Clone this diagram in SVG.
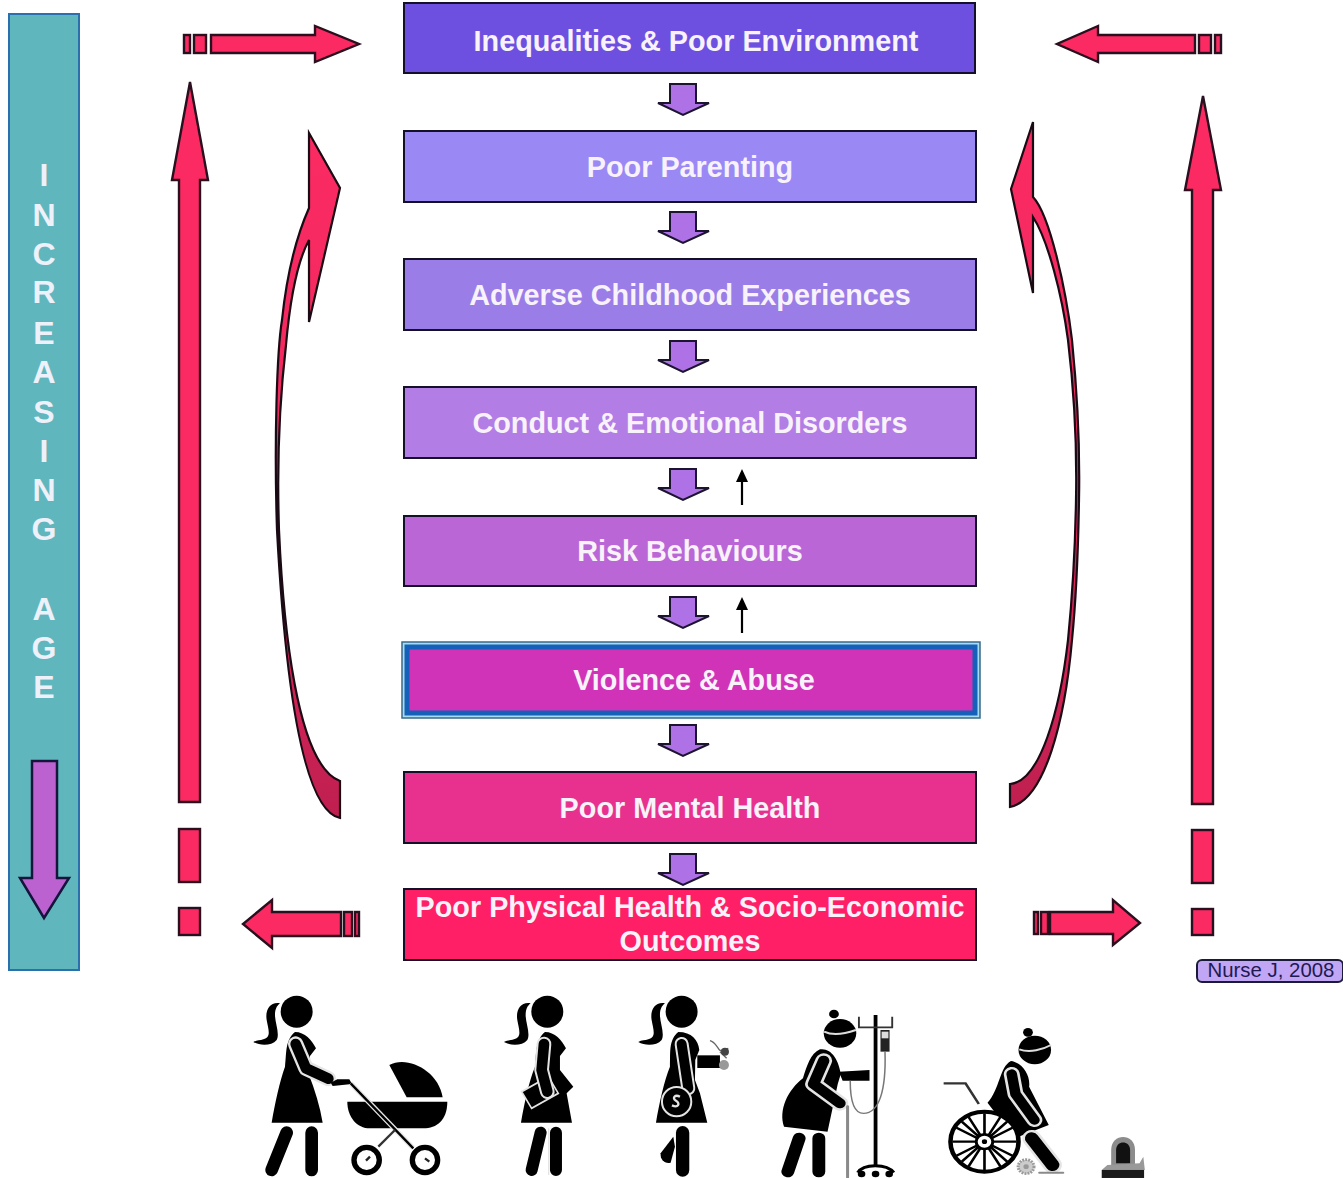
<svg xmlns="http://www.w3.org/2000/svg" width="1343" height="1178" viewBox="0 0 1343 1178">
<style>
.box{stroke:#14102a;stroke-width:2}
.t{font-family:"Liberation Sans",Arial,sans-serif;font-weight:700;font-size:28.8px;fill:#f8f2fb;text-anchor:middle}
.side{font-family:"Liberation Sans",Arial,sans-serif;font-weight:700;font-size:32px;fill:#eef0fa;text-anchor:middle}
.red{fill:#fb2a62;stroke:#2a0f1e;stroke-width:2.4;stroke-linejoin:miter}
.pur{fill:#ae72e6;stroke:#1c1430;stroke-width:2}
.k{fill:#000}
.lw{fill:none;stroke:#e4e4e4;stroke-linecap:round;stroke-linejoin:round}
.lk{fill:none;stroke:#000;stroke-linecap:round;stroke-linejoin:round}
.g{fill:none;stroke:#8a8a8a;stroke-linecap:round}
</style>
<defs>
<linearGradient id="cl" x1="0" y1="0" x2="0" y2="1"><stop offset="0" stop-color="#fb2a62"/><stop offset="0.45" stop-color="#f02a60"/><stop offset="1" stop-color="#bf1f50"/></linearGradient>
<path id="dn" class="pur" d="M670,84H696V103H709L683,115L658,103H670Z"/>
<path id="pony" class="k" d="M150,70C120,65 105,90 110,120C115,150 125,170 100,178C90,182 80,180 70,186C90,198 125,198 140,180C150,160 135,130 135,105C135,88 140,78 150,70Z"/>
</defs>
<rect width="1343" height="1178" fill="#fff"/>

<g id="age-bar">
<rect x="9" y="14" width="70" height="956" fill="#5fb7bd" stroke="#2a6fae" stroke-width="2"/>
<text class="side"><tspan x="44" y="186">I</tspan><tspan x="44" y="226">N</tspan><tspan x="44" y="265">C</tspan><tspan x="44" y="303">R</tspan><tspan x="44" y="344">E</tspan><tspan x="44" y="383">A</tspan><tspan x="44" y="423">S</tspan><tspan x="44" y="462">I</tspan><tspan x="44" y="501">N</tspan><tspan x="44" y="540">G</tspan></text>
<text class="side"><tspan x="44" y="620">A</tspan><tspan x="44" y="659">G</tspan><tspan x="44" y="698">E</tspan></text>
<path d="M32,761H57V878H69L44,918L20,878H32Z" fill="#bb62d0" stroke="#14143c" stroke-width="2.5"/>
</g>

<g id="n1"><rect class="box" x="404" y="3" width="571" height="70" fill="#6e50e0"/><text class="t" x="696" y="51">Inequalities &amp; Poor Environment</text></g>
<g id="n2"><rect class="box" x="404" y="131" width="572" height="71" fill="#9a88f5"/><text class="t" x="690" y="177">Poor Parenting</text></g>
<g id="n3"><rect class="box" x="404" y="259" width="572" height="71" fill="#9b7de8"/><text class="t" x="690" y="305">Adverse Childhood Experiences</text></g>
<g id="n4"><rect class="box" x="404" y="387" width="572" height="71" fill="#b27de4"/><text class="t" x="690" y="433">Conduct &amp; Emotional Disorders</text></g>
<g id="n5"><rect class="box" x="404" y="516" width="572" height="70" fill="#bb66d6"/><text class="t" x="690" y="561">Risk Behaviours</text></g>
<g id="n6"><rect x="402" y="642" width="578" height="76" fill="#a5dcf0" stroke="#3a6a8a" stroke-width="1.5"/><rect x="407" y="647" width="568" height="66" fill="#d033b8" stroke="#1560b8" stroke-width="5"/><text class="t" x="694" y="690">Violence &amp; Abuse</text></g>
<g id="n7"><rect class="box" x="404" y="772" width="572" height="71" fill="#e8318f"/><text class="t" x="690" y="818">Poor Mental Health</text></g>
<g id="n8"><rect class="box" x="404" y="889" width="572" height="71" fill="#ff1f66"/><text class="t" x="690" y="917">Poor Physical Health &amp; Socio-Economic</text><text class="t" x="690" y="951">Outcomes</text></g>
<g id="credit"><rect x="1197" y="960" width="146" height="22" rx="5" fill="#c0a6f5" stroke="#1a1a3a" stroke-width="2"/><text x="1271" y="977" font-family="Liberation Sans,Arial,sans-serif" font-size="20.4" fill="#1f1a50" text-anchor="middle">Nurse J, 2008</text></g>

<g id="connectors">
<use href="#dn"/><use href="#dn" y="128"/><use href="#dn" y="257"/><use href="#dn" y="385"/><use href="#dn" y="513"/><use href="#dn" y="641"/><use href="#dn" y="770"/>
<path d="M742,505V480" stroke="#000" stroke-width="2.2" fill="none"/><path d="M736,482L742,469L748,482Z"/>
<path d="M742,633V608" stroke="#000" stroke-width="2.2" fill="none"/><path d="M736,610L742,597L748,610Z"/>

<path class="red" d="M211,35H315V26L359,44L315,62V53H211Z"/>
<rect class="red" x="184" y="35" width="6" height="18"/><rect class="red" x="194" y="35" width="12" height="18"/>
<path class="red" d="M1195,35H1098V26L1057,44L1098,62V53H1195Z"/>
<rect class="red" x="1199" y="35" width="12" height="18"/><rect class="red" x="1215" y="35" width="6" height="18"/>
<path class="red" d="M341,912H272V900L243,924L272,948V936H341Z"/>
<rect class="red" x="344" y="912" width="8" height="24"/><rect class="red" x="355" y="912" width="4" height="24"/>
<path class="red" d="M1050,912H1113V900L1140,923L1113,945V934H1050Z"/>
<rect class="red" x="1034" y="912" width="4" height="22"/><rect class="red" x="1041" y="912" width="7" height="22"/>

<path class="red" d="M179,802V180H172L190,82L208,180H200V802Z"/>
<rect class="red" x="179" y="829" width="21" height="53"/><rect class="red" x="179" y="908" width="21" height="27"/>
<path class="red" d="M1192,804V190H1185L1203,96L1221,190H1213V804Z"/>
<rect class="red" x="1192" y="830" width="21" height="53"/><rect class="red" x="1192" y="909" width="21" height="26"/>

<path d="M309,133L340,188L309,322V240C297,262 290,300 286,345C279,405 277,470 279,530C283,620 296,765 340,781V818C300,810 284,660 277,530C274,440 277,350 282,320C287,272 297,235 309,208Z" fill="url(#cl)" stroke="#1a0a14" stroke-width="2.2"/>
<path d="M1033,122L1011,189L1033,293V217C1048,240 1062,295 1068,340C1074,390 1077,450 1076,500C1075,560 1070,620 1068,640C1060,710 1040,782 1010,784V807C1045,800 1065,720 1072,640C1075,610 1078,560 1079,500C1080,450 1077,390 1072,340C1066,290 1050,215 1033,197Z" fill="url(#cl)" stroke="#1a0a14" stroke-width="2.2"/>
</g>

<g id="people-left" transform="translate(230,980) scale(0.3333)">
<g id="mother">
<circle class="k" cx="200" cy="95" r="48"/><use href="#pony"/>
<path class="k" d="M195,156C225,156 245,180 258,205L240,228L235,280C255,330 270,380 278,428H125C135,370 150,300 165,260C170,220 165,180 195,156Z"/>
<path class="lw" stroke-width="46" d="M197,192L228,265L295,296"/><path class="lk" stroke-width="32" d="M197,192L228,265L295,296"/>
<path class="lk" stroke-width="38" d="M170,458L125,570M245,458V570"/>
<path class="k" d="M302,308L322,298H358L366,312L308,318Z"/>
<path class="k" d="M478,255C530,225 625,270 638,352H530Z"/>
<path class="k" d="M352,365H652C652,420 620,445 580,445H420C380,445 352,410 352,365Z"/>
<path stroke="#e8e8e8" stroke-width="15" d="M362,310L550,505" fill="none"/><path stroke="#000" stroke-width="7" d="M362,310L550,505" fill="none"/>
<path stroke="#333" stroke-width="7" d="M445,500L495,450" fill="none"/>
<circle cx="410" cy="540" r="38" fill="#fff" stroke="#000" stroke-width="16"/><circle cx="585" cy="540" r="38" fill="#fff" stroke="#000" stroke-width="16"/>
<path stroke="#222" stroke-width="7" d="M408,542L420,530M585,535L598,545"/>
</g>
<g id="woman-folder">
<circle class="k" cx="952" cy="95" r="48"/><use href="#pony" x="752"/>
<path class="k" d="M945,156C975,156 995,180 1008,205L990,228L990,270L1030,320L1010,340L1026,428H873C883,370 898,300 915,260C920,220 915,180 945,156Z"/>
<path fill="#000" stroke="#e4e4e4" stroke-width="5" d="M875,335L905,385L985,340L955,290Z"/>
<path class="lw" stroke-width="44" d="M942,192L935,270L952,335"/><path class="lk" stroke-width="32" d="M942,192L935,270L952,335"/>
<path class="lk" stroke-width="36" d="M932,458L905,570M978,458V570"/>
<path stroke="#e4e4e4" stroke-width="4" d="M956,445V585"/>
</g>
<g id="woman-bag">
<circle class="k" cx="1355" cy="95" r="48"/><use href="#pony" x="1155"/>
<path class="k" d="M1345,156C1385,156 1405,180 1408,210L1396,240L1395,300L1410,340L1432,428H1278C1288,370 1303,300 1320,260C1322,220 1315,180 1345,156Z"/>
<path class="lw" stroke-width="42" d="M1355,192L1375,325"/><path class="lk" stroke-width="30" d="M1355,192L1375,325"/>
<path fill="#000" d="M1402,226H1470V264H1402Z"/>
<path stroke="#666" stroke-width="4" fill="none" d="M1440,182C1455,185 1460,200 1470,212M1470,212L1495,205M1470,215L1490,235"/>
<circle fill="#444" cx="1485" cy="215" r="12"/><circle fill="#999" cx="1482" cy="255" r="15"/>
<circle cx="1340" cy="365" r="44" fill="#000" stroke="#e4e4e4" stroke-width="6"/>
<path fill="none" stroke="#e4e4e4" stroke-width="7" d="M1350,350C1335,342 1325,355 1338,362C1352,370 1345,385 1326,376"/>
<path class="lk" stroke-width="40" d="M1358,458V570"/>
<path class="k" d="M1330,470L1292,520C1290,540 1305,552 1322,548L1335,500Z"/>
</g>
</g>

<g id="people-right" transform="translate(750,950) scale(0.3782,0.3333)">
<g id="woman-drip">
<circle class="k" cx="238" cy="250" r="43"/><circle class="k" cx="222" cy="192" r="13"/>
<path stroke="#ddd" stroke-width="6" fill="none" d="M196,245C220,258 255,250 280,240"/>
<path class="k" d="M185,298C215,293 235,330 240,372L232,402L205,545L90,530C75,480 100,420 140,385C150,350 160,310 185,298Z"/>
<path class="lw" stroke-width="44" d="M195,332L168,402L238,460"/><path class="lk" stroke-width="30" d="M195,332L168,402L238,460"/>
<path class="k" d="M235,365L316,360V392H245Z"/>
<path class="lk" stroke-width="34" d="M130,565L100,665M182,565V665"/>
<path class="g" stroke-width="8" d="M258,470V682"/>
<path stroke="#000" stroke-width="10" d="M332,195V645" fill="none"/>
<path stroke="#333" stroke-width="5" fill="none" d="M288,200V232H376V200"/>
<rect x="345" y="240" width="24" height="65" fill="#222"/><rect x="348" y="245" width="18" height="20" fill="#ddd"/>
<path fill="none" stroke="#777" stroke-width="4" d="M357,305C360,420 342,490 300,490C270,490 265,440 265,392"/>
<path fill="none" stroke="#000" stroke-width="9" d="M285,668C300,640 362,640 380,668"/>
<circle cx="295" cy="672" r="10"/><circle cx="332" cy="672" r="10"/><circle cx="368" cy="672" r="10"/>
</g>
<g id="wheelchair">
<circle class="k" cx="753" cy="300" r="43"/><circle class="k" cx="735" cy="247" r="13"/>
<path stroke="#ddd" stroke-width="6" fill="none" d="M712,298C740,310 775,298 796,285"/>
<path class="k" d="M690,333C720,338 742,375 738,410L790,525L700,565L628,458C660,420 660,350 690,333Z"/>
<path class="lw" stroke-width="42" d="M692,372L702,432L752,510"/><path class="lk" stroke-width="28" d="M692,372L702,432L752,510"/>
<path class="lw" stroke-width="50" d="M745,565L800,645"/><path class="lk" stroke-width="36" d="M745,565L800,645"/>
<path fill="none" stroke="#333" stroke-width="7" d="M512,400H570L605,462"/>
<circle cx="620" cy="575" r="90" fill="#fff" stroke="#000" stroke-width="12"/>
<path stroke="#000" stroke-width="7" d="M620,490V660M535,575H705M560,515L680,635M680,515L560,635M578,501L662,649M662,501L578,649M546,533L694,617M694,533L546,617" fill="none"/>
<circle cx="620" cy="575" r="22" fill="#fff" stroke="#000" stroke-width="8"/><circle cx="620" cy="575" r="7"/>
<circle cx="730" cy="650" r="21" fill="#ccc" stroke="#999" stroke-width="8" stroke-dasharray="5 3"/><circle cx="730" cy="650" r="7" fill="#999"/>
<path class="g" stroke-width="6" d="M765,668H828"/>
</g>
<g id="grave">
<path fill="#8c8c8c" d="M955,655V600C955,548 1018,548 1018,600V655Z"/>
<path fill="#111" d="M968,640V600C968,570 1005,570 1005,600V640Z"/>
<path fill="#999" d="M930,660L945,645L1030,640L1040,620L1044,660Z"/>
<rect x="930" y="660" width="112" height="24" fill="#1a1a1a"/>
</g>
</g>
</svg>
